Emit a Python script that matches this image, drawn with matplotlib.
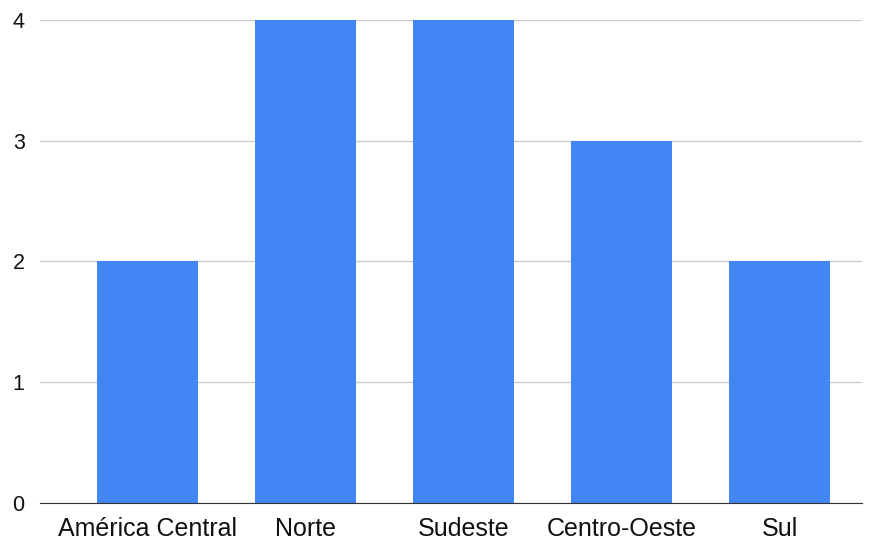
import matplotlib.pyplot as plt

regioes = ['América Central', 'Norte', 'Sudeste', 'Centro-Oeste', 'Sul']
valores = [2, 4, 4, 3, 2]
yticks = [0, 1, 2, 3, 4]

plt.rcParams['font.family'] = ['Liberation Sans', 'DejaVu Sans']

fig = plt.figure(figsize=(8.75, 5.41), dpi=100)
ax = fig.add_axes([0.0457, 0.0702, 0.939, 0.893])

x = range(len(regioes))
ax.bar(x, valores, width=0.64, color='#4285F4', zorder=3)

ax.set_xlim(-0.68, 4.52)
ax.set_ylim(0, 4)
ax.set_yticks(yticks)
ax.set_xticks(list(x))
ax.set_xticklabels(regioes, fontsize=18, color='#111111')
ax.set_yticklabels([str(v) for v in yticks], fontsize=15.5, color='#111111')
ax.tick_params(axis='x', length=0, pad=10)
ax.tick_params(axis='y', length=0, pad=11)
ax.grid(axis='y', color='#cccccc', linewidth=1, zorder=0)
ax.set_axisbelow(True)
for s in ['top', 'right', 'left']:
    ax.spines[s].set_visible(False)
ax.spines['bottom'].set_color('#333333')
ax.spines['bottom'].set_zorder(4)

fig.savefig('out.png', dpi=100)
